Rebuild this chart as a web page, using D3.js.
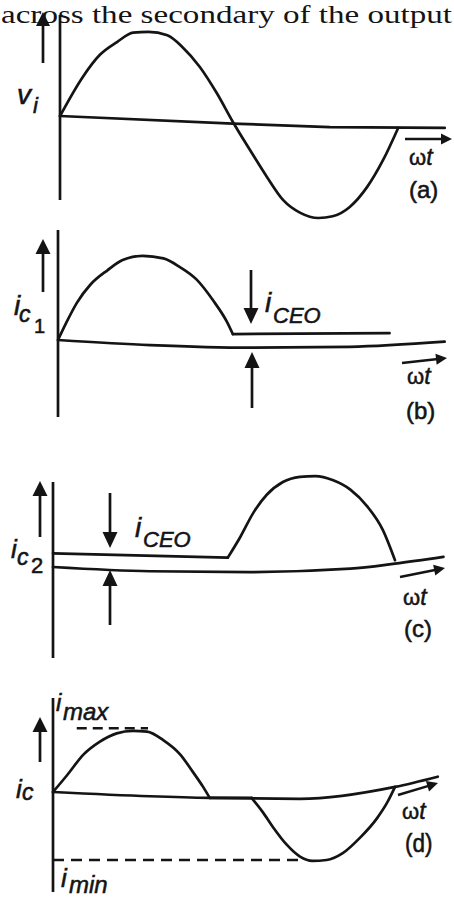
<!DOCTYPE html>
<html>
<head>
<meta charset="utf-8">
<script src="https://cdn.jsdelivr.net/npm/d3@7"></script>
<style>
  html, body { margin: 0; padding: 0; background: #ffffff; }
  svg { display: block; }
  text { fill: #141414; }
</style>
</head>
<body>
<script>
// Waveforms of a push-pull stage: input voltage, the two collector currents
// (each with its leakage i_CEO) and the resulting output current.
// Each point is [ωt in degrees, level in units of the peak].

// (a) input voltage v_i
const viWave = [[0,0],[24,0.46],[42,0.72],[60,0.87],[77,0.98],[93,0.99],[113,0.95],[129,0.81],
  [147,0.58],[165,0.27],[182,-0.07],[200,-0.40],[218,-0.72],[235,-0.99],[253,-1.14],[272,-1.20],
  [287,-1.18],[305,-1.07],[323,-0.84],[340,-0.52],[356,-0.14]];
const viAxis = [[0,0],[182,-0.09],[284,-0.13],[405,-0.14]];

// (b) collector current of the first transistor
const ic1Wave = [[0,0],[9,0.21],[20,0.44],[34,0.65],[52,0.82],[68,0.94],[89,0.99],[111,0.96],
  [128,0.86],[146,0.71],[163,0.47],[178,0.21],[184,0.07]];
const ic1Leak = [[184,0.07],[349,0.08]];
const ic1Axis = [[0,0],[97,-0.06],[202,-0.09],[307,-0.08],[407,-0.02]];

// (c) collector current of the second transistor
const ic2Leak = [[0,0.16],[184,0.11]];
const ic2Wave = [[184,0.11],[197,0.35],[211,0.64],[225,0.85],[242,1.0],[260,1.06],[276,1.07],
  [295,1.02],[313,0.91],[331,0.71],[347,0.44],[360,0.08]];
const ic2Axis = [[0,0],[102,-0.05],[207,-0.06],[313,-0.02],[360,0.04],[411,0.12]];

// (d) output current i_c
const icPos = [[0,0],[15,0.2],[32,0.44],[49,0.59],[67,0.69],[84,0.72],[99,0.71],[116,0.61],
  [134,0.44],[147,0.24],[158,0.06],[165,-0.07]];
const icFlat = [[165,-0.07],[209,-0.07]];
const icNeg = [[209,-0.07],[221,-0.24],[232,-0.42],[246,-0.62],[260,-0.76],[273,-0.81],[288,-0.80],
  [305,-0.72],[323,-0.54],[341,-0.31],[352,-0.12],[360,0.06]];
const icAxis = [[0,0],[102,-0.05],[165,-0.07],[260,-0.08],[360,0.06],[405,0.18]];
const icMax = { level: 0.75, from: 25, to: 100 };
const icMin = { level: -0.80, from: 0, to: 265 };

const panelTags = ["(a)", "(b)", "(c)", "(d)"];
const heading = "across the secondary of the output";

const W = 454, H = 899;
const INK = "#141414";
const SANS = "'Liberation Sans', Arial, sans-serif";

const svg = d3.select("body").append("svg")
  .attr("width", W).attr("height", H)
  .attr("viewBox", `0 0 ${W} ${H}`);

svg.append("rect").attr("width", W).attr("height", H).attr("fill", "#ffffff");

// running heading along the top edge
svg.append("text")
  .attr("x", 1).attr("y", 23)
  .attr("textLength", 451).attr("lengthAdjust", "spacingAndGlyphs")
  .style("font-family", "'Liberation Serif', 'Times New Roman', serif")
  .style("font-size", "25.5px")
  .text(heading);

// per-panel scales: origin of each plot in page pixels
function scales(ox, oy) {
  return {
    x: d3.scaleLinear().domain([0, 360]).range([ox, ox + 342]),
    y: d3.scaleLinear().domain([-1, 1]).range([oy + 85, oy - 85])
  };
}

function drawLine(g, s, pts, curve, dash) {
  const gen = d3.line().x(d => s.x(d[0])).y(d => s.y(d[1])).curve(curve || d3.curveMonotoneX);
  const p = g.append("path").attr("d", gen(pts))
    .attr("fill", "none").attr("stroke", INK)
    .attr("stroke-width", 2.7).attr("stroke-linecap", "round").attr("stroke-linejoin", "round");
  if (dash) p.attr("stroke-dasharray", dash).attr("stroke-linecap", "butt").attr("stroke-width", 2.3);
  return p;
}

// straight arrow with a filled triangular head at (x2, y2)
function arrow(g, x1, y1, x2, y2, len, wid, sw) {
  const dx = x2 - x1, dy = y2 - y1, L = Math.hypot(dx, dy);
  const ux = dx / L, uy = dy / L, nx = -uy, ny = ux;
  const bx = x2 - ux * len, by = y2 - uy * len;
  g.append("line").attr("x1", x1).attr("y1", y1).attr("x2", bx + ux * 2).attr("y2", by + uy * 2)
    .attr("stroke", INK).attr("stroke-width", sw || 2.7);
  g.append("path")
    .attr("d", `M${x2},${y2}L${bx + nx * wid / 2},${by + ny * wid / 2}L${bx - nx * wid / 2},${by - ny * wid / 2}Z`)
    .attr("fill", INK);
}

function vline(g, x, y1, y2) {
  g.append("line").attr("x1", x).attr("x2", x).attr("y1", y1).attr("y2", y2)
    .attr("stroke", INK).attr("stroke-width", 2.7);
}

function label(g, x, y, str, size, italic, sx) {
  return g.append("text")
    .attr("transform", `translate(${x},${y}) scale(${sx || 1},1)`)
    .style("font-family", SANS).style("font-size", size + "px")
    .style("font-style", italic ? "italic" : "normal")
    .attr("stroke", INK).attr("stroke-width", 0.55)
    .text(str);
}

function omegaT(g, x, y) {
  const t = g.append("text").attr("x", x).attr("y", y)
    .style("font-family", SANS).style("font-size", "22px")
    .attr("stroke", INK).attr("stroke-width", 0.5);
  t.append("tspan").text("ω");
  t.append("tspan").style("font-style", "italic").style("font-size", "23px").text("t");
}

// ---------- (a) ----------
{
  const g = svg.append("g");
  const s = scales(60, 116);
  vline(g, 60, 15, 200);
  arrow(g, 43, 63, 43, 12, 14, 14);
  drawLine(g, s, viAxis, d3.curveLinear);
  drawLine(g, s, viWave);
  label(g, 17, 104, "v", 28, true);
  label(g, 33, 113, "i", 22, true);
  arrow(g, 405, 139, 452, 139, 11, 11, 2.5);
  omegaT(g, 409, 165);
  label(g, 409, 198, panelTags[0], 24, false);
}

// ---------- (b) ----------
{
  const g = svg.append("g");
  const s = scales(58, 340);
  vline(g, 58, 230, 417);
  arrow(g, 43, 292, 43, 239, 15, 15);
  drawLine(g, s, ic1Axis);
  drawLine(g, s, ic1Wave);
  drawLine(g, s, ic1Leak, d3.curveLinear);
  label(g, 14, 315, "i", 28, true);
  label(g, 19, 322, "c", 23, true);
  label(g, 34, 333, "1", 20, false);
  arrow(g, 251, 270, 251, 324, 16, 15);
  arrow(g, 252, 408, 252, 352, 16, 15);
  label(g, 265, 312, "i", 28, true);
  label(g, 273, 323, "CEO", 22, true);
  arrow(g, 402, 363, 447, 358, 11, 11, 2.5);
  omegaT(g, 407, 384);
  label(g, 406, 419, panelTags[1], 24, false);
}

// ---------- (c) ----------
{
  const g = svg.append("g");
  const s = scales(53, 567);
  vline(g, 53, 482, 658);
  arrow(g, 40, 537, 40, 481, 15, 15);
  drawLine(g, s, ic2Axis);
  drawLine(g, s, ic2Leak, d3.curveLinear);
  drawLine(g, s, ic2Wave);
  label(g, 11, 558, "i", 26, true);
  label(g, 17, 565, "c", 23, true);
  label(g, 31, 573, "2", 22, false);
  arrow(g, 110, 493, 110, 548, 16, 15);
  arrow(g, 110, 625, 110, 570, 16, 15);
  label(g, 135, 537, "i", 28, true);
  label(g, 143, 547, "CEO", 22, true);
  arrow(g, 400, 577, 445, 568, 11, 11, 2.5);
  omegaT(g, 403, 605);
  label(g, 404, 637, panelTags[2], 24, false);
}

// ---------- (d) ----------
{
  const g = svg.append("g");
  const s = scales(53, 792);
  vline(g, 53, 698, 892);
  arrow(g, 40, 762, 40, 717, 15, 15);
  drawLine(g, s, icAxis);
  drawLine(g, s, icPos);
  drawLine(g, s, icFlat, d3.curveLinear);
  drawLine(g, s, icNeg);
  drawLine(g, s, [[icMax.from, icMax.level], [icMax.to, icMax.level]], d3.curveLinear, "10,6");
  drawLine(g, s, [[icMin.from, icMin.level], [icMin.to, icMin.level]], d3.curveLinear, "11,7");
  label(g, 16, 798, "i", 26, true);
  label(g, 22, 800, "c", 23, true);
  label(g, 56, 711, "i", 24, true);
  label(g, 63, 720, "max", 24, true);
  label(g, 61, 887, "i", 26, true);
  label(g, 69, 893, "min", 24, true);
  arrow(g, 398, 795, 438, 783, 11, 11, 2.5);
  omegaT(g, 402, 819);
  label(g, 405, 852, panelTags[3], 25, false, 0.9);
}
</script>
</body>
</html>
